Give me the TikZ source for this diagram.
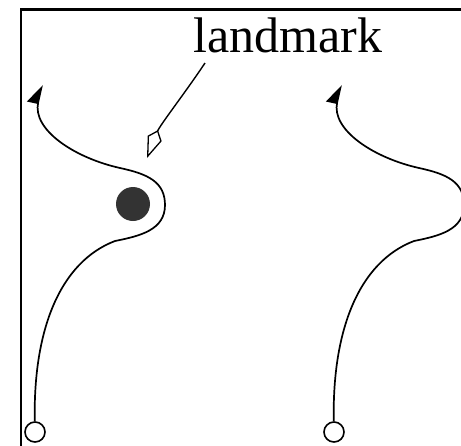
\documentclass[tikz,border=0pt]{standalone}
\usepackage{fontspec}
\setmainfont{Liberation Serif}
\usetikzlibrary{arrows.meta}
\begin{document}
\begin{tikzpicture}[x=1pt,y=-1pt,
  frameline/.style={line width=2.2pt},
  trajectory/.style={line width=1.7pt,-{Triangle[left,length=18pt,width=22pt]}},
  startpt/.style={circle,draw,line width=1.6pt,minimum size=20pt,inner sep=0pt},
  landmarkdot/.style={circle,fill=black!80,minimum size=34pt,inner sep=0pt},
  pointer/.style={line width=1.4pt,-{Kite[open,length=30pt,width=15pt,inset=9pt,line width=1.3pt]}}]
\useasboundingbox (0,0) rectangle (461,445);
\clip (0,0) rectangle (461,445);
\draw[frameline] (21,460) -- (21,9.5) -- (470,9.5);
\node[anchor=base west,inner sep=0pt,font=\fontsize{50}{60}\selectfont] (lbl) at (193,52) {landmark};
\node[landmarkdot] (lm) at (133,204) {};
\node[startpt] (s1) at (35,432) {};
\node[startpt] (s2) at (334,432) {};
\coordinate (e1) at (42,85);
\coordinate (e2) at (341,85);
\coordinate (p0) at (205,63);
\coordinate (p1) at (147,158);
\draw[trajectory] (s1) .. controls (33,330) and (60,262) .. (115,241)
  .. controls (140,236) and (165,230) .. (165,205)
  .. controls (165,182) and (148,174) .. (120,168)
  .. controls (75,158) and (32,130) .. (e1);
\draw[trajectory] (s2) .. controls (332,330) and (359,262) .. (414,241)
  .. controls (439,236) and (464,230) .. (464,205)
  .. controls (464,182) and (447,174) .. (419,168)
  .. controls (374,158) and (331,130) .. (e2);
\draw[pointer] (p0) .. controls (185,93) and (160,125) .. (p1);
\end{tikzpicture}
\end{document}
